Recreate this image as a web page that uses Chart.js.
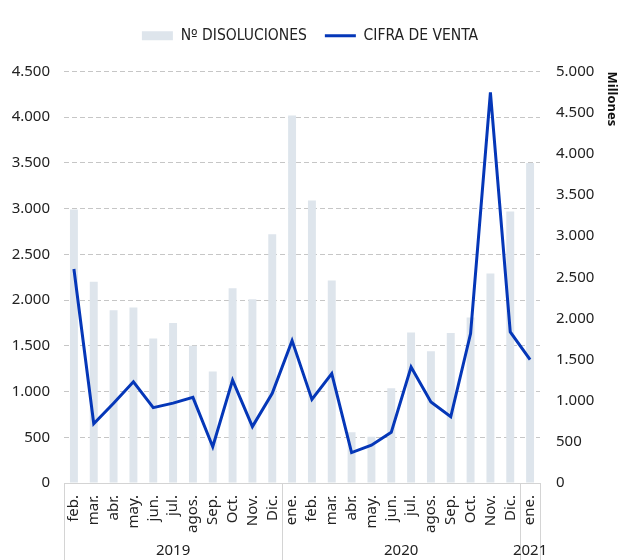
<!DOCTYPE html>
<html>
<head>
<meta charset="utf-8">
<script src="https://cdn.jsdelivr.net/npm/chart.js@4.4.1/dist/chart.umd.min.js"></script>
<style>
    html, body { margin: 0; padding: 0; background: #ffffff; }
    #wrap { width: 620px; height: 560px; }
</style>
</head>
<body>
<div id="wrap"><canvas id="grafico" width="620" height="560"></canvas></div>
<script>
// datos
const meses = ['feb.', 'mar.', 'abr.', 'may.', 'jun.', 'jul.', 'agos.', 'Sep.', 'Oct.', 'Nov.', 'Dic.',
    'ene.', 'feb.', 'mar.', 'abr.', 'may.', 'jun.', 'jul.', 'agos.', 'Sep.', 'Oct.', 'Nov.', 'Dic.',
    'ene.'];
const anios = ['2019', '2020', '2021'];
const mesesPorAnio = [11, 12, 1];

const disoluciones = [2990, 2200, 1890, 1920, 1580, 1750, 1500, 1220, 2130, 2010, 2720,
    4020, 3090, 2215, 555, 505, 1035, 1645, 1440, 1640, 1810, 2290, 2970,
    3500];
const cifraVenta = [2600, 720, 970, 1230, 915, 970, 1040, 440, 1250, 685, 1090,
    1730, 1015, 1330, 370, 460, 615, 1410, 985, 805, 1815, 4745, 1835,
    1500];

const FUENTE = "'Noto Sans', sans-serif";
const FUENTE_LEYENDA = "'DejaVu Sans Condensed', 'Roboto', sans-serif";

function miles(v) {
    return String(v).replace(/\B(?=(\d{3})+(?!\d))/g, '.');
}

// mas aire entre la leyenda y el area del grafico
const espacioLeyenda = {
    id: 'espacioLeyenda',
    beforeInit(chart) {
        const fitOriginal = chart.legend.fit;
        chart.legend.fit = function () {
            fitOriginal.bind(chart.legend)();
            this.height += 18;
        };
    }
};

// caja de meses y etiquetas de año bajo el eje x
const cajaAnios = {
    id: 'cajaAnios',
    afterDraw(chart) {
        const ctx = chart.ctx;
        const x = chart.scales.x;
        const area = chart.chartArea;
        const alto = chart.height;

        const bordes = [area.left];
        let idx = 0;
        mesesPorAnio.forEach(n => {
            idx += n;
            if (idx < meses.length) {
                bordes.push((x.getPixelForValue(idx - 1) + x.getPixelForValue(idx)) / 2);
            }
        });
        bordes.push(area.right);

        ctx.save();
        ctx.strokeStyle = '#d4d4d4';
        ctx.lineWidth = 1;
        bordes.forEach(b => {
            const bx = Math.round(b) + 0.5;
            ctx.beginPath();
            ctx.moveTo(bx, area.bottom);
            ctx.lineTo(bx, alto);
            ctx.stroke();
        });

        ctx.fillStyle = '#222222';
        ctx.font = '15px ' + FUENTE;
        ctx.textAlign = 'center';
        ctx.textBaseline = 'middle';
        anios.forEach((anio, i) => {
            let cx;
            if (mesesPorAnio[i] > 1) {
                cx = (bordes[i] + bordes[i + 1]) / 2;
            } else {
                const primero = mesesPorAnio.slice(0, i).reduce((a, b) => a + b, 0);
                cx = x.getPixelForValue(primero);
            }
            ctx.fillText(anio, cx, 551);
        });
        ctx.restore();
    }
};

new Chart(document.getElementById('grafico'), {
    data: {
        labels: meses,
        datasets: [{
            type: 'bar',
            label: 'Nº DISOLUCIONES',
            data: disoluciones,
            backgroundColor: '#dee5ec',
            borderWidth: 0,
            categoryPercentage: 1,
            barPercentage: 0.4,
            yAxisID: 'y',
            order: 1
        }, {
            type: 'line',
            label: 'CIFRA DE VENTA',
            data: cifraVenta,
            borderColor: '#0537b8',
            backgroundColor: '#0537b8',
            borderWidth: 3,
            pointRadius: 0,
            tension: 0,
            yAxisID: 'y2',
            order: 0
        }]
    },
    options: {
        responsive: false,
        animation: false,
        layout: {
            padding: { top: 10, left: 0, right: 0, bottom: 0 }
        },
        plugins: {
            legend: {
                position: 'top',
                labels: {
                    usePointStyle: true,
                    pointStyleWidth: 31,
                    boxHeight: 9,
                    padding: 18,
                    color: '#222222',
                    font: { family: FUENTE_LEYENDA, size: 15.5 },
                    sort: (a, b) => a.datasetIndex - b.datasetIndex,
                    generateLabels(chart) {
                        const items = Chart.defaults.plugins.legend.labels.generateLabels(chart);
                        items.forEach(it => {
                            it.pointStyle = it.datasetIndex === 0 ? 'rect' : 'line';
                            if (it.datasetIndex === 0) it.lineWidth = 0;
                        });
                        return items;
                    }
                }
            },
            tooltip: { enabled: false }
        },
        scales: {
            x: {
                grid: { display: false },
                border: { display: true, color: '#d4d4d4' },
                ticks: {
                    autoSkip: false,
                    minRotation: 90,
                    maxRotation: 90,
                    padding: 4,
                    color: '#222222',
                    font: { family: FUENTE, size: 15 }
                },
                afterFit(scale) { scale.height = 77; }
            },
            y: {
                position: 'left',
                min: 0,
                max: 4500,
                ticks: {
                    stepSize: 500,
                    padding: 14,
                    color: '#222222',
                    font: { family: FUENTE, size: 15 },
                    callback: v => miles(v)
                },
                grid: {
                    color: '#c6c6c6',
                    drawTicks: false
                },
                border: { display: false, dash: [5, 3] },
                afterFit(scale) { scale.width = 64; }
            },
            y2: {
                position: 'right',
                min: 0,
                max: 5000,
                ticks: {
                    stepSize: 500,
                    padding: 16,
                    color: '#222222',
                    font: { family: FUENTE, size: 15 },
                    callback: v => miles(v)
                },
                grid: { display: false, drawTicks: false },
                border: { display: false },
                title: {
                    display: true,
                    text: 'Millones',
                    align: 'end',
                    color: '#111111',
                    padding: { top: 0, bottom: 0 },
                    font: { family: FUENTE, size: 13, weight: 'bold' }
                },
                afterFit(scale) { scale.width = 80; }
            }
        }
    },
    plugins: [espacioLeyenda, cajaAnios]
});
</script>
</body>
</html>
